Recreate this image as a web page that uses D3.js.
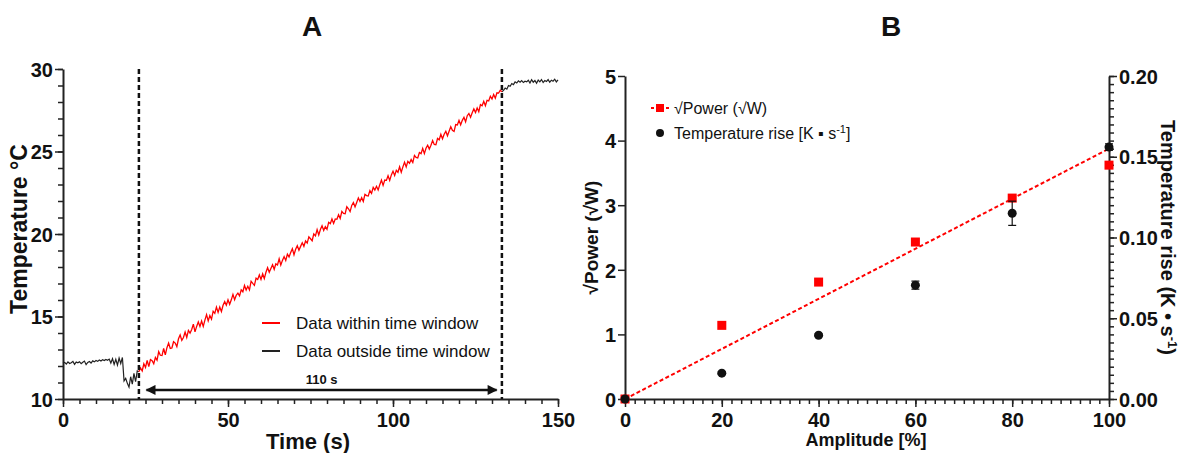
<!DOCTYPE html>
<html>
<head>
<meta charset="utf-8">
<script src="https://cdn.jsdelivr.net/npm/d3@7"></script>
<style>
body { margin: 0; background: #fff; }
text { font-family: "Liberation Sans", Arial, sans-serif; fill: #111; }
</style>
</head>
<body>
<svg id="chart" width="1179" height="453"></svg>
<script>
(function() {

// ---- panel A data (temperature trace, one sample every 0.5 s) ----
const sampleStep = 0.5;
const preStart = 0;
const preTemps = [
  12.18, 12.22, 12.12, 12.25, 12.15, 12.20, 12.28, 12.10, 12.24, 12.19,
  12.26, 12.14, 12.23, 12.30, 12.08, 12.22, 12.27, 12.18, 12.31, 12.25,
  12.33, 12.28, 12.36, 12.30, 12.38, 12.33, 12.40, 12.35, 12.42, 12.18,
  12.45, 12.10, 12.40, 12.05, 12.48, 12.15, 12.52, 11.10, 11.25, 10.95,
  10.72, 11.35, 10.90, 11.55, 11.05, 11.70
];
const windowStart = 23;
const windowTemps = [
  11.65, 11.88, 11.70, 12.13, 11.91, 12.34, 11.96, 12.39, 12.32, 12.14,
  12.52, 12.35, 12.87, 12.65, 12.63, 13.06, 12.68, 13.11, 13.39, 13.06,
  13.09, 13.47, 13.39, 13.17, 13.65, 13.88, 13.55, 13.73, 14.06, 13.73,
  14.16, 13.99, 14.21, 14.54, 14.07, 14.40, 14.67, 14.40, 14.73, 14.40,
  14.78, 15.11, 14.73, 15.06, 14.84, 15.32, 15.19, 15.57, 15.25, 15.57,
  15.30, 15.68, 15.90, 15.68, 16.01, 15.74, 16.01, 16.34, 16.02, 16.29,
  16.42, 16.25, 16.62, 16.50, 16.88, 16.61, 16.83, 16.61, 17.14, 17.01,
  16.89, 17.32, 17.24, 17.52, 17.25, 17.58, 17.30, 17.68, 17.96, 17.68,
  17.91, 18.14, 17.86, 18.19, 18.12, 18.50, 18.12, 18.40, 18.63, 18.40,
  18.78, 18.61, 18.88, 19.11, 18.74, 19.07, 19.29, 19.02, 19.25, 19.47,
  19.25, 19.58, 19.45, 19.83, 19.71, 19.59, 20.01, 19.89, 20.27, 19.94,
  20.27, 20.50, 20.22, 20.45, 20.28, 20.71, 20.63, 20.91, 20.64, 20.91,
  20.89, 21.17, 20.94, 21.37, 21.25, 21.23, 21.65, 21.53, 21.36, 21.73,
  21.91, 21.64, 21.91, 22.19, 21.97, 22.20, 21.97, 22.40, 22.33, 22.30,
  22.63, 22.46, 22.83, 22.66, 22.89, 22.67, 22.99, 23.27, 22.95, 23.27,
  23.25, 23.53, 23.25, 23.58, 23.81, 23.54, 23.86, 23.74, 24.07, 23.74,
  24.07, 24.35, 24.07, 24.40, 24.28, 24.51, 24.33, 24.76, 24.64, 24.61,
  24.94, 24.87, 25.19, 24.87, 25.20, 25.38, 25.15, 25.38, 25.66, 25.43,
  25.41, 25.79, 25.71, 26.04, 25.77, 26.05, 26.22, 25.95, 26.23, 26.50,
  26.28, 26.21, 26.63, 26.61, 26.89, 26.62, 26.89, 27.07, 26.80, 27.17,
  27.30, 27.08, 27.35, 27.58, 27.36, 27.64, 27.41, 27.84, 27.77, 28.04,
  27.77, 28.10, 28.07, 28.35, 28.18, 28.46, 28.23, 28.56, 28.54, 28.71,
  28.62
];
const postStart = 133.5;
const postTemps = [
  28.70, 28.85, 28.78, 29.00, 28.95, 29.12, 29.05, 29.22, 29.15, 29.28,
  29.20, 29.30, 29.18, 29.26, 29.22, 29.32, 29.15, 29.35, 29.20, 29.30,
  29.14, 29.33, 29.22, 29.36, 29.18, 29.30, 29.24, 29.36, 29.20, 29.32,
  29.26, 29.38, 29.22, 29.34
];
const windowEdges = [23, 133];
const spanArrow = [25.3, 131.4];
const spanLevel = 10.55;
const spanLabel = '110 s';
const tempTicks = [10, 15, 20, 25, 30];
const timeTicks = [0, 50, 100, 150];

// ---- panel B data ----
const amplitudes = [0, 20, 40, 60, 80, 100];
const sqrtPower = [0, 1.14, 1.81, 2.43, 3.11, 3.62];
const tempRise = [0, 0.016, 0.0395, 0.0705, 0.115, 0.156];
const tempRiseErr = [0, 0.0008, 0.0008, 0.0025, 0.0075, 0.002];
const fitEnds = [[0, 0], [100, 0.155]];
const ampTicks = [0, 20, 40, 60, 80, 100];
const powerTicks = [0, 1, 2, 3, 4, 5];
const riseTicks = [0, 0.05, 0.10, 0.15, 0.20];

const red = '#ff0000';
const ink = '#222';

const svg = d3.select('#chart');

const toPoints = (start, temps) => temps.map((v, i) => [start + i * sampleStep, v]);
const prePts = toPoints(preStart, preTemps);
const winPts = toPoints(windowStart, windowTemps);
const postPts = toPoints(postStart, postTemps);

function styleAxis(g, labelSize) {
  g.select('.domain').attr('stroke', ink).attr('stroke-width', 2);
  g.selectAll('.tick line').attr('stroke', ink).attr('stroke-width', 1.5);
  g.selectAll('.tick text')
    .attr('font-size', labelSize)
    .attr('font-weight', 'bold')
    .attr('fill', '#111')
    .attr('font-family', '"Liberation Sans", Arial, sans-serif');
}

// =============== Panel A ===============
const xA = d3.scaleLinear().domain([0, 150]).range([63, 558]);
const yA = d3.scaleLinear().domain([10, 30]).range([399, 69]);

const gA = svg.append('g');

// minor ticks
gA.append('g')
  .attr('transform', `translate(0,${yA(10)})`)
  .call(d3.axisBottom(xA).tickValues(d3.range(0, 151, 5)).tickSize(5).tickFormat('').tickSizeOuter(0))
  .call(g => styleAxis(g, 18));
gA.append('g')
  .attr('transform', `translate(${xA(0)},0)`)
  .call(d3.axisLeft(yA).tickValues(d3.range(10, 31, 1)).tickSize(5).tickFormat('').tickSizeOuter(0))
  .call(g => styleAxis(g, 18));

// major ticks
gA.append('g')
  .attr('transform', `translate(0,${yA(10)})`)
  .call(d3.axisBottom(xA).tickValues(timeTicks).tickSize(8).tickPadding(6).tickSizeOuter(0))
  .call(g => styleAxis(g, 20))
  .call(g => g.select('.domain').remove());
gA.append('g')
  .attr('transform', `translate(${xA(0)},0)`)
  .call(d3.axisLeft(yA).tickValues(tempTicks).tickSize(8).tickPadding(2).tickSizeOuter(0))
  .call(g => styleAxis(g, 20))
  .call(g => g.select('.domain').remove())
  .call(g => g.selectAll('.tick text').attr('dy', '0.36em'));

const lineA = d3.line().x(d => xA(d[0])).y(d => yA(d[1]));

gA.append('path')
  .datum(prePts.concat([winPts[0]]))
  .attr('d', lineA)
  .attr('fill', 'none')
  .attr('stroke', ink)
  .attr('stroke-width', 1.2);

gA.append('path')
  .datum([winPts[winPts.length - 1]].concat(postPts))
  .attr('d', lineA)
  .attr('fill', 'none')
  .attr('stroke', ink)
  .attr('stroke-width', 1.2);

gA.append('path')
  .datum(winPts)
  .attr('d', lineA)
  .attr('fill', 'none')
  .attr('stroke', red)
  .attr('stroke-width', 1.3);

// window edges
gA.selectAll('.edge')
  .data(windowEdges)
  .enter().append('line')
    .attr('class', 'edge')
    .attr('x1', d => xA(d)).attr('x2', d => xA(d))
    .attr('y1', yA(30)).attr('y2', yA(10))
    .attr('stroke', '#111')
    .attr('stroke-width', 2.5)
    .attr('stroke-dasharray', '5,3');

// span arrow
const defs = svg.append('defs');
defs.append('marker')
  .attr('id', 'head')
  .attr('viewBox', '0 0 10 10')
  .attr('refX', 9).attr('refY', 5)
  .attr('markerWidth', 5).attr('markerHeight', 4)
  .attr('markerUnits', 'strokeWidth')
  .attr('orient', 'auto-start-reverse')
  .append('path')
    .attr('d', 'M0,0 L10,5 L0,10 z')
    .attr('fill', '#111');

gA.append('line')
  .attr('x1', xA(spanArrow[0])).attr('x2', xA(spanArrow[1]))
  .attr('y1', yA(spanLevel)).attr('y2', yA(spanLevel))
  .attr('stroke', '#111')
  .attr('stroke-width', 2.5)
  .attr('marker-start', 'url(#head)')
  .attr('marker-end', 'url(#head)');

gA.append('text')
  .attr('x', xA((spanArrow[0] + spanArrow[1]) / 2))
  .attr('y', yA(spanLevel) - 6)
  .attr('text-anchor', 'middle')
  .attr('font-size', 13)
  .attr('font-weight', 'bold')
  .text(spanLabel);

// legend A
const legA = [
  { label: 'Data within time window', color: red },
  { label: 'Data outside time window', color: ink }
];
const legAItem = gA.selectAll('.legA')
  .data(legA)
  .enter().append('g')
    .attr('class', 'legA')
    .attr('transform', (d, i) => `translate(262,${323 + i * 28})`);
legAItem.append('line')
  .attr('x1', 0).attr('x2', 18)
  .attr('stroke', d => d.color)
  .attr('stroke-width', 2);
legAItem.append('text')
  .attr('x', 34).attr('y', 6)
  .attr('font-size', 17)
  .text(d => d.label);

// titles A
gA.append('text')
  .attr('x', 312).attr('y', 36)
  .attr('text-anchor', 'middle')
  .attr('font-size', 28)
  .attr('font-weight', 'bold')
  .text('A');
gA.append('text')
  .attr('x', 308).attr('y', 449)
  .attr('text-anchor', 'middle')
  .attr('font-size', 22)
  .attr('font-weight', 'bold')
  .text('Time (s)');
gA.append('text')
  .attr('transform', `translate(27,${yA(20.3)}) rotate(-90)`)
  .attr('text-anchor', 'middle')
  .attr('font-size', 23)
  .attr('font-weight', 'bold')
  .text('Temperature °C');

// =============== Panel B ===============
const xB = d3.scaleLinear().domain([0, 100]).range([625, 1109]);
const yL = d3.scaleLinear().domain([0, 5]).range([399, 76]);
const yR = d3.scaleLinear().domain([0, 0.2]).range([399, 76]);

const gB = svg.append('g');

gB.append('g')
  .attr('transform', `translate(0,${yL(0)})`)
  .call(d3.axisBottom(xB).tickValues(d3.range(0, 101, 2)).tickSize(5).tickFormat('').tickSizeOuter(0))
  .call(g => styleAxis(g, 18));
gB.append('g')
  .attr('transform', `translate(0,${yL(0)})`)
  .call(d3.axisBottom(xB).tickValues(ampTicks).tickSize(8).tickPadding(6).tickSizeOuter(0))
  .call(g => styleAxis(g, 20))
  .call(g => g.select('.domain').remove());

gB.append('g')
  .attr('transform', `translate(${xB(0)},0)`)
  .call(d3.axisLeft(yL).tickValues(powerTicks).tickFormat(d3.format('d')).tickSize(7).tickPadding(2).tickSizeOuter(0))
  .call(g => styleAxis(g, 20))
  .call(g => g.selectAll('.tick text').attr('dy', '0.36em'));

gB.append('g')
  .attr('transform', `translate(${xB(100)},0)`)
  .call(d3.axisRight(yR).tickValues(d3.range(0, 41).map(i => i * 0.005)).tickSize(5).tickFormat('').tickSizeOuter(0))
  .call(g => styleAxis(g, 18));
gB.append('g')
  .attr('transform', `translate(${xB(100)},0)`)
  .call(d3.axisRight(yR).tickValues(riseTicks).tickSize(8).tickPadding(2).tickFormat(d3.format('.2f')).tickSizeOuter(0))
  .call(g => styleAxis(g, 20))
  .call(g => g.select('.domain').remove())
  .call(g => g.selectAll('.tick text').attr('dy', '0.36em'));

// fit line (right-axis units)
gB.append('line')
  .attr('x1', xB(fitEnds[0][0])).attr('y1', yR(fitEnds[0][1]))
  .attr('x2', xB(fitEnds[1][0])).attr('y2', yR(fitEnds[1][1]))
  .attr('stroke', red)
  .attr('stroke-width', 2)
  .attr('stroke-dasharray', '4,2.5');

// squares: sqrt power
gB.selectAll('.sq')
  .data(amplitudes)
  .enter().append('rect')
    .attr('class', 'sq')
    .attr('x', (d, i) => xB(d) - 4.5)
    .attr('y', (d, i) => yL(sqrtPower[i]) - 4.5)
    .attr('width', 9).attr('height', 9)
    .attr('fill', red);

// error bars + circles: temperature rise
const eb = gB.selectAll('.eb')
  .data(amplitudes)
  .enter().append('g')
    .attr('class', 'eb');
eb.append('line')
  .attr('x1', d => xB(d)).attr('x2', d => xB(d))
  .attr('y1', (d, i) => yR(tempRise[i] - tempRiseErr[i]))
  .attr('y2', (d, i) => yR(tempRise[i] + tempRiseErr[i]))
  .attr('stroke', '#111').attr('stroke-width', 1.2);
['-', '+'].forEach(sign => {
  eb.append('line')
    .attr('x1', d => xB(d) - 4).attr('x2', d => xB(d) + 4)
    .attr('y1', (d, i) => yR(tempRise[i] + (sign === '+' ? 1 : -1) * tempRiseErr[i]))
    .attr('y2', (d, i) => yR(tempRise[i] + (sign === '+' ? 1 : -1) * tempRiseErr[i]))
    .attr('stroke', '#111').attr('stroke-width', 1.2);
});
eb.append('circle')
  .attr('cx', d => xB(d))
  .attr('cy', (d, i) => yR(tempRise[i]))
  .attr('r', 4.5)
  .attr('fill', '#111');

// legend B
const legB = gB.append('g').attr('transform', 'translate(660,108)');
legB.append('line')
  .attr('x1', -9).attr('x2', 9)
  .attr('stroke', red).attr('stroke-width', 2)
  .attr('stroke-dasharray', '3,2');
legB.append('rect')
  .attr('x', -4).attr('y', -4).attr('width', 8).attr('height', 8)
  .attr('fill', red);
legB.append('text')
  .attr('x', 14).attr('y', 5.5)
  .attr('font-size', 16)
  .text('√Power (√W)');
legB.append('circle')
  .attr('cx', 0).attr('cy', 25).attr('r', 4)
  .attr('fill', '#111');
const legBText = legB.append('text')
  .attr('x', 14).attr('y', 31)
  .attr('font-size', 16);
legBText.append('tspan').text('Temperature rise [K ▪ s');
legBText.append('tspan').attr('dy', -6).attr('font-size', 11).text('-1');
legBText.append('tspan').attr('dy', 6).text(']');

// titles B
gB.append('text')
  .attr('x', 891).attr('y', 36)
  .attr('text-anchor', 'middle')
  .attr('font-size', 28)
  .attr('font-weight', 'bold')
  .text('B');
gB.append('text')
  .attr('x', 866).attr('y', 446)
  .attr('text-anchor', 'middle')
  .attr('font-size', 18)
  .attr('font-weight', 'bold')
  .text('Amplitude [%]');
gB.append('text')
  .attr('transform', `translate(598,${yL(2.5)}) rotate(-90)`)
  .attr('text-anchor', 'middle')
  .attr('font-size', 19)
  .attr('font-weight', 'bold')
  .text('√Power (√W)');
const rTitle = gB.append('text')
  .attr('transform', `translate(1161,${yR(0.1)}) rotate(90)`)
  .attr('text-anchor', 'middle')
  .attr('font-size', 20)
  .attr('font-weight', 'bold');
rTitle.append('tspan').text('Temperature rise (K • s');
rTitle.append('tspan').attr('dy', -7).attr('font-size', 13).text('-1');
rTitle.append('tspan').attr('dy', 7).text(')');

})();
</script>
</body>
</html>
